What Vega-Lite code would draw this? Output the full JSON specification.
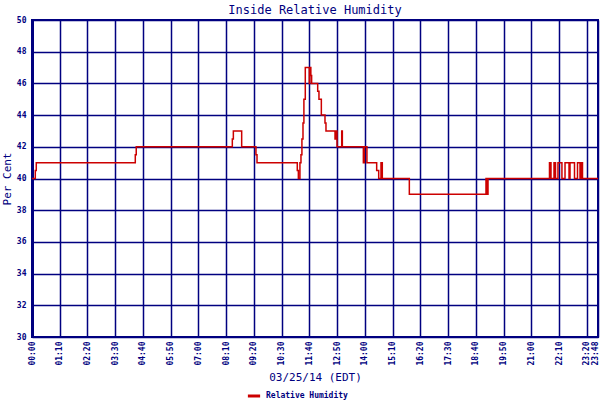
{
  "$schema": "https://vega.github.io/schema/vega-lite/v6.json",
  "width": 566,
  "height": 317,
  "autosize": "none",
  "padding": {"left": 32, "top": 20, "right": 2, "bottom": 63},
  "background": "white",
  "title": {"text": "Inside Relative Humidity", "font": "DejaVu Sans Mono", "fontSize": 12, "fontWeight": "normal", "color": "#000080", "offset": 6, "dy": 7},
  "config": {
    "view": {"stroke": "#000080", "strokeWidth": 2},
    "axis": {"gridColor": "#000080", "gridWidth": 1.5, "gridOpacity": 1, "domainColor": "#000080", "tickColor": "#000080", "labelColor": "#000080", "titleColor": "#000080", "labelFont": "DejaVu Sans Mono", "titleFont": "DejaVu Sans Mono", "titleFontWeight": "normal"}
  },
  "data": {"values": [
    {"m": 0, "v": 40}, {"m": 8.3, "v": 40.5}, {"m": 10.8, "v": 41}, {"m": 260.6, "v": 41.5}, {"m": 263, "v": 42},
    {"m": 505.4, "v": 42.5}, {"m": 508, "v": 43}, {"m": 529, "v": 42}, {"m": 565, "v": 41.5}, {"m": 567.7, "v": 41},
    {"m": 669.3, "v": 40.5}, {"m": 672, "v": 40}, {"m": 676, "v": 41}, {"m": 678.6, "v": 41.5}, {"m": 681, "v": 42.5},
    {"m": 683.7, "v": 43.5}, {"m": 686, "v": 45}, {"m": 689.5, "v": 47}, {"m": 699.6, "v": 46}, {"m": 700.9, "v": 47},
    {"m": 703.5, "v": 46.5}, {"m": 705.5, "v": 46}, {"m": 720.8, "v": 45.5}, {"m": 724, "v": 45}, {"m": 730, "v": 44},
    {"m": 739.2, "v": 43.5}, {"m": 741.7, "v": 43}, {"m": 764.5, "v": 42.5}, {"m": 767, "v": 43}, {"m": 769.5, "v": 42},
    {"m": 781.4, "v": 43}, {"m": 783, "v": 42}, {"m": 836, "v": 41}, {"m": 838.5, "v": 42}, {"m": 845, "v": 41},
    {"m": 869.6, "v": 40.5}, {"m": 874.7, "v": 40}, {"m": 880.5, "v": 41}, {"m": 883.8, "v": 40}, {"m": 952, "v": 39},
    {"m": 1145.4, "v": 40}, {"m": 1148.7, "v": 39}, {"m": 1150.5, "v": 40},
    {"m": 1305.6, "v": 41}, {"m": 1309.4, "v": 40}, {"m": 1317, "v": 41}, {"m": 1320.8, "v": 40},
    {"m": 1327, "v": 41}, {"m": 1337, "v": 40}, {"m": 1344.8, "v": 41}, {"m": 1354.9, "v": 40},
    {"m": 1357.4, "v": 41}, {"m": 1368.7, "v": 40}, {"m": 1376.3, "v": 41}, {"m": 1382.6, "v": 40},
    {"m": 1386.4, "v": 41}, {"m": 1388.9, "v": 40}, {"m": 1428, "v": 40}
  ]},
  "mark": {"type": "line", "interpolate": "step-after", "strokeWidth": 1.5, "clip": true},
  "encoding": {
    "x": {"field": "m", "type": "quantitative",
      "scale": {"domain": [0, 1428], "nice": false, "zero": false},
      "axis": {"values": [0, 70, 140, 210, 280, 350, 420, 490, 560, 630, 700, 770, 840, 910, 980, 1050, 1120, 1190, 1260, 1330, 1400, 1428],
        "labelExpr": "pad(floor(datum.value/60),2,'0','left') + ':' + pad(datum.value%60,2,'0','left')",
        "labelAngle": 270, "labelAlign": "right", "labelBaseline": "middle", "labelFontSize": 8, "labelFontWeight": "bold",
        "labelPadding": 4, "ticks": false, "domain": false, "labelOverlap": false, "labelFlush": false,
        "labelOffset": {"expr": "datum.value == 1428 ? -3 : 0"},
        "title": "03/25/14 (EDT)", "titleFontSize": 11, "titlePadding": 6}},
    "y": {"field": "v", "type": "quantitative",
      "scale": {"domain": [30, 50], "nice": false, "zero": false},
      "axis": {"values": [30, 32, 34, 36, 38, 40, 42, 44, 46, 48, 50], "labelFontSize": 8, "labelFontWeight": "bold",
        "ticks": false, "domainWidth": 3, "labelPadding": 6,
        "title": "Per Cent", "titleFontSize": 11, "titlePadding": 4}},
    "color": {"datum": "Relative Humidity", "type": "nominal",
      "scale": {"range": ["#cc0000"]},
      "legend": {"orient": "none", "legendX": 214, "legendY": 368, "title": null, "symbolType": "stroke", "symbolStrokeWidth": 3, "symbolSize": 150,
        "labelFont": "DejaVu Sans Mono", "labelFontSize": 8, "labelFontWeight": "bold", "labelColor": "#000080"}}
  }
}
